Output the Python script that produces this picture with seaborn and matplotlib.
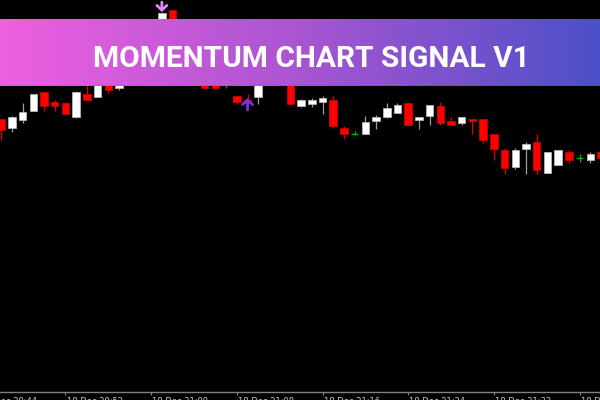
import numpy as np
import pandas as pd
import matplotlib
matplotlib.use("Agg")
import matplotlib.pyplot as plt
import matplotlib.transforms as mtransforms
from matplotlib.colors import LinearSegmentedColormap
import seaborn as sns

# ---------------- data (1-minute bars, arbitrary price units) ----------------
open_ = [281, 272, 280, 289, 308, 298, 297, 283, 306, 303, 322, 312, 328, 345, 338, 362,
         390, 370, 340, 340, 330, 320, 304, 300, 303, 322, 338, 345, 294, 296, 298, 300,
         272, 266, 266, 279, 283, 287, 297, 280, 284, 294, 279, 277, 281, 281, 266, 250,
         233, 251, 258, 227, 235, 248, 242, 240, 248]
high = [281, 284, 297, 306, 308, 300, 298, 309, 320, 325, 324, 334, 350, 352, 370, 388,
        390, 375, 360, 345, 335, 324, 304, 306, 330, 345, 355, 350, 301, 302, 304, 304,
        274, 269, 284, 285, 297, 297, 297, 283, 295, 298, 283, 283, 281, 281, 266, 252,
        252, 258, 266, 248, 250, 250, 246, 248, 248]
low = [260, 268, 277, 289, 289, 289, 286, 282, 300, 303, 307, 310, 326, 334, 336, 360,
       365, 345, 335, 312, 311, 312, 296, 296, 296, 320, 330, 296, 293, 293, 286, 272,
       261, 265.5, 266, 271, 282, 287, 275, 271, 275, 275, 275, 275, 266, 257, 240, 226,
       231, 226, 226, 227, 235, 237, 238, 237, 235]
close = [270, 283, 288, 306, 294, 294, 286, 308, 300, 322, 310, 330, 345, 338, 365, 387.5,
         370, 350, 355, 312, 312, 320, 298, 297, 325, 340, 350, 296, 300.5, 300, 302, 274,
         266, 266, 278, 283, 292, 295, 275, 283, 295, 277, 275, 283, 279, 260, 251, 232,
         250, 256, 230, 248, 250, 240, 242, 246, 242]

tick_index = [-2, 6, 14, 22, 30, 38, 46, 54]
tick_labels = ["18 Dec 20:44", "18 Dec 20:52", "18 Dec 21:00", "18 Dec 21:08",
               "18 Dec 21:16", "18 Dec 21:24", "18 Dec 21:32", "18 Dec 21:40"]

buy_idx = [23]
buy_tip = [302]
buy_tail = [290]
sell_idx = [15]
sell_tail = [398]
sell_tip = [388]

title_text = "MOMENTUM CHART SIGNAL V1"

# ---------------- figure ----------------
sns.set_theme(style="dark", rc={"axes.facecolor": "black", "figure.facecolor": "black",
                                "axes.grid": False})
plt.rcParams['font.family'] = ['DejaVu Sans']

df = pd.DataFrame({"o": open_, "h": high, "l": low, "c": close})
df["i"] = np.arange(len(df))
bull = df[df.c > df.o]
bear = df[df.c < df.o]
doji = df[df.c == df.o]

fig = plt.figure(figsize=(6, 4), dpi=100)
ax = fig.add_axes([0, 8 / 400, 1, 392 / 400])
ax.set_facecolor("black")

w = 0.7
# wicks
ax.vlines(bull.i, bull.l, bull.h, colors="#9c9c9c", lw=0.9, zorder=1)
ax.vlines(bear.i, bear.l, bear.h, colors="#e00000", lw=0.9, zorder=1)
ax.vlines(doji.i, doji.l, doji.h, colors="#00b400", lw=0.9, zorder=1)
# bodies
ax.bar(bull.i, bull.c - bull.o, bottom=bull.o, width=w, color="white",
       edgecolor="#b4b4b4", linewidth=0.6, zorder=2)
ax.bar(bear.i, bear.o - bear.c, bottom=bear.c, width=w, color="#ff0000",
       edgecolor="#c80000", linewidth=0.6, zorder=2)
ax.hlines(doji.o, doji.i - w / 2, doji.i + w / 2, colors="#00b400", lw=1.0, zorder=2)

# signals
for xi, t0, t1 in zip(buy_idx, buy_tail, buy_tip):
    ax.annotate("", xy=(xi, t1), xytext=(xi, t0),
                arrowprops=dict(arrowstyle="->,head_width=0.3,head_length=0.28",
                                color="#7b2fd8", lw=2.0, shrinkA=0, shrinkB=0), zorder=5)
for xi, t0, t1 in zip(sell_idx, sell_tail, sell_tip):
    ax.annotate("", xy=(xi, t1), xytext=(xi, t0),
                arrowprops=dict(arrowstyle="->,head_width=0.3,head_length=0.28",
                                color="#d98cf4", lw=2.0, shrinkA=0, shrinkB=0),
                zorder=5, annotation_clip=False)

# axes styling
for s in ["top", "left", "right"]:
    ax.spines[s].set_visible(False)
ax.spines["bottom"].set_color("#808080")
ax.spines["bottom"].set_linewidth(1.0)
ax.set_yticks([])
ax.set_xticks(tick_index)
ax.set_xticklabels([])
ax.tick_params(axis="x", direction="out", length=2.2, width=0.8, color="#808080",
               bottom=True)

step = 10.71
x0 = 1.2 / step
ax.set_xlim(-x0, (600 - 1.2) / step)
ax.set_ylim(8, 400)

trans = mtransforms.blended_transform_factory(ax.transData, ax.transAxes)
for xi, lab in zip(tick_index, tick_labels):
    ax.text(xi + 0.1, -4.5 / 392, lab, transform=trans, ha="left", va="top",
            fontsize=6, color="#c8c8c8", clip_on=False)

# banner
bax = fig.add_axes([0, (400 - 86) / 400, 1, 67 / 400], zorder=10)
cmap = LinearSegmentedColormap.from_list("banner", ["#ee60e0", "#a955d2", "#4c50c8"])
grad = np.linspace(0, 1, 512).reshape(1, -1)
bax.imshow(grad, aspect="auto", cmap=cmap, extent=[0, 1, 0, 1])
bax.set_xlim(0, 1)
bax.set_ylim(0, 1)
bax.axis("off")
bax.axhline(0.005, color="#5a2a80", lw=1.0, alpha=0.6)
bax.text(311.5 / 600, (86 - 66.7) / 67, title_text, ha="center", va="baseline",
         fontsize=21.5, color="white", fontweight="bold", family=["Roboto", "DejaVu Sans"])

fig.savefig("out.png", dpi=100, facecolor="black")
